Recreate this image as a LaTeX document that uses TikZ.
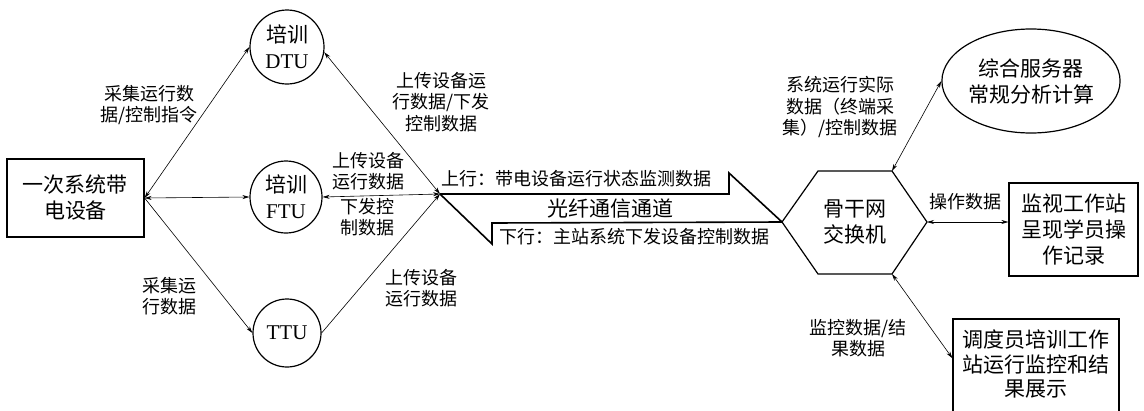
\documentclass[tikz,border=0pt]{standalone}
\usepackage{fontspec}
\setmainfont{Liberation Serif}
\newfontfamily\cjk{Noto Sans CJK SC}
\usetikzlibrary{arrows.meta,shapes.geometric,calc}
\newcommand\labfont{\cjk\fontsize{18}{21.5}\selectfont}
\newcommand\nodefont{\cjk\fontsize{21}{26}\selectfont}
\tikzset{
  lab/.style={font=\labfont, align=center, inner sep=0pt},
  box/.style={draw, line width=1.2pt, font=\nodefont, align=center, inner sep=0pt},
  circ/.style={draw, circle, line width=1.2pt, font=\nodefont, align=center, inner sep=0pt},
  conn/.style={line width=0.6pt, {Stealth[length=7pt,width=4pt]}-{Stealth[length=7pt,width=4pt]}},
  conn1/.style={line width=0.6pt, -{Stealth[length=7pt,width=4pt]}},
  fiber/.style={line width=1.6pt, line join=miter},
}
\begin{document}
\begin{tikzpicture}[x=1pt,y=-1pt]
\useasboundingbox (0,0) rectangle (1144,410);
\clip (0,0) rectangle (1144,410);
\fill[white] (0,0) rectangle (1144,410);

% left side nodes
\node[box, minimum width=137pt, minimum height=78pt] (src) at (75.5,198) {一次系统带\\电设备};
\node[circ, minimum size=74pt] (dtu) at (287,47) {培训\\{\rmfamily DTU}};
\node[circ, minimum size=72pt] (ftu) at (286,197) {培训\\{\rmfamily FTU}};
\node[circ, minimum size=68pt] (ttu) at (287,333) {{\rmfamily TTU}};
\coordinate (J) at (440,194);

% hexagon switch
\coordinate (hL) at (782,222);
\coordinate (hTL) at (818,171);
\coordinate (hTR) at (892,171);
\coordinate (hR) at (927,222);
\coordinate (hBR) at (892,274);
\coordinate (hBL) at (818,274);
\draw[line width=1.2pt, line join=miter] (hL) -- (hTL) -- (hTR) -- (hR) -- (hBR) -- (hBL) -- cycle;
\node[font=\nodefont, align=center, inner sep=0pt] (sw) at (855,222) {骨干网\\交换机};

% right side nodes
\node[draw, ellipse, line width=1.2pt, minimum width=166pt, minimum height=104pt, inner sep=0pt, font=\nodefont, align=center] (srv) at (1031,81) {综合服务器\\常规分析计算};
\node[box, minimum width=129pt, minimum height=93pt] (mon) at (1073.5,229.5) {监视工作站\\呈现学员操\\作记录};
\node[draw, line width=1.2pt, minimum width=166pt, minimum height=96pt, inner sep=0pt] (dsp) at (1036,367) {};
\node[font=\cjk\fontsize{21}{24.5}\selectfont, align=center, inner sep=0pt] (dspt) at (1036,364) {调度员培训工作\\站运行监控和结\\果展示};

% fiber channel
\draw[fiber] (J) -- (729,194) -- (729,173) -- (hL);
\draw[fiber] (J) -- (492,244) -- (492,223) -- (hL);

% connectors left
\draw[conn] (src.east) -- (dtu.west);
\draw[conn] (src.east) -- (ftu.west);
\draw[conn1] (src.east) -- (ttu.west);
\draw[conn] (dtu.-8) -- (J);
\draw[conn] (ftu.east) -- (J);
\draw[conn1] (ttu.east) -- (J);

% connectors right
\draw[conn] (hTR) -- (srv.west);
\draw[conn] (hR) -- (mon.west |- hR);
\draw[conn] (hBR) -- ($(dsp.north west)!0.41!(dsp.south west)$);

% labels
\node[lab] (l1) at (149,105) {采集运行数\\据/控制指令};
\node[lab] (l2) at (169,296) {采集运\\行数据};
\node[lab] (l3) at (441,102) {上传设备运\\行数据/下发\\控制数据};
\node[lab] (l4) at (368,171) {上传设备\\运行数据};
\node[lab] (l5) at (367,217) {下发控\\制数据};
\node[lab] (l6) at (421,288) {上传设备\\运行数据};
\node[lab, anchor=west] (up) at (441,179) {上行：带电设备运行状态监测数据};
\node[font=\nodefont, inner sep=0pt] (ch) at (610,209) {光纤通信通道};
\node[lab, anchor=west] (dn) at (499,237) {下行：主站系统下发设备控制数据};
\node[lab] (l7) at (840,107) {系统运行实际\\数据（终端采\\集）/控制数据};
\node[lab] (l8) at (965,202) {操作数据};
\node[lab] (l9) at (858,338) {监控数据/结\\果数据};
\end{tikzpicture}
\end{document}
